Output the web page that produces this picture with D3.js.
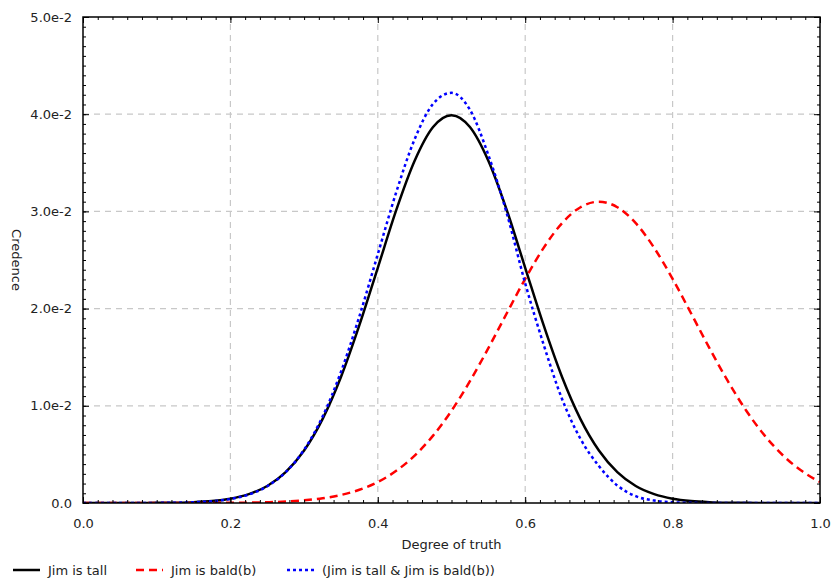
<!DOCTYPE html>
<html>
<head>
  <title>Credence</title>
  <style type="text/css">
    body { margin: 0; background: #fff; }
    svg { display: block; font-family: "DejaVu Sans", sans-serif; }
  </style>
</head>
<body>
<svg id='vis' width='837' height='582'></svg>

<script src="https://cdnjs.cloudflare.com/ajax/libs/d3/7.8.5/d3.min.js"></script>
<script type="text/javascript">

  // degree of truth sample points
  var degrees = [0, 0.025, 0.05, 0.075, 0.1, 0.125, 0.15, 0.175, 0.2, 0.225, 0.25, 0.275, 0.3,
                 0.325, 0.35, 0.375, 0.4, 0.425, 0.45, 0.475, 0.5, 0.525, 0.55, 0.575, 0.6,
                 0.625, 0.65, 0.675, 0.7, 0.725, 0.75, 0.775, 0.8, 0.825, 0.85, 0.875, 0.9,
                 0.925, 0.95, 0.975, 1];

  var tall = [0, 0.0000005, 0.0000016, 0.0000048, 0.0000134, 0.000035, 0.000087, 0.000203, 0.000443,
              0.00091, 0.00175, 0.00318, 0.0054, 0.00863, 0.01296, 0.01829, 0.0242, 0.03013, 0.03521,
              0.03868, 0.0399, 0.03868, 0.03521, 0.03013, 0.0242, 0.01829, 0.01296, 0.00863, 0.0054,
              0.00318, 0.00175, 0.00091, 0.000443, 0.000203, 0.000087, 0.000035, 0.0000134, 0.0000048,
              0.0000016, 0.0000005, 0];

  var bald = [0, 0, 0, 0.000001, 0.000002, 0.000004, 0.000006, 0.00001, 0.000019, 0.000039, 0.000078,
              0.000148, 0.000273, 0.000484, 0.000827, 0.00136, 0.00216, 0.00331, 0.00488, 0.00693,
              0.00949, 0.01253, 0.01593, 0.01952, 0.02306, 0.02625, 0.02879, 0.03043, 0.031, 0.03043,
              0.02879, 0.02625, 0.02306, 0.01952, 0.01593, 0.01253, 0.00949, 0.00693, 0.00488, 0.00331,
              0.00216];

  var both = [0, 0, 0, 0.000003, 0.00001, 0.00003, 0.000077, 0.000185, 0.00041, 0.00087, 0.00172,
              0.00317, 0.00548, 0.00888, 0.01349, 0.0192, 0.0256, 0.03197, 0.03743, 0.04106, 0.0422,
              0.04046, 0.0358, 0.0298, 0.0226, 0.0163, 0.0107, 0.0066, 0.0038, 0.0018, 0.0007, 0.00025,
              0.00008, 0.00002, 0, 0, 0, 0, 0, 0, 0];

  var seriesNames = ['Jim is tall', 'Jim is bald(b)', '(Jim is tall & Jim is bald(b))'];
  var xTicks = [0, 0.2, 0.4, 0.6, 0.8, 1.0];
  var yTicks = [0, 0.01, 0.02, 0.03, 0.04, 0.05];
  var yTickLabels = ['0.0', '1.0e-2', '2.0e-2', '3.0e-2', '4.0e-2', '5.0e-2'];

  var margin = { top: 17, right: 17, bottom: 79, left: 83 },
      width = 837, height = 582,
      fontSize = 13,
      styles = [
        { color: '#000000', dash: null },
        { color: '#ff0000', dash: '8,5' },
        { color: '#0000ff', dash: '3,3' }
      ];

  var svg = d3.select('#vis');

  var xScale = d3.scaleLinear().domain([0, 1]).range([margin.left, width - margin.right]);
  var yScale = d3.scaleLinear().domain([0, 0.05]).range([height - margin.bottom, margin.top]);

  var x0 = xScale.range()[0], x1 = xScale.range()[1],
      y0 = yScale.range()[0], y1 = yScale.range()[1];

  // grid
  var grid = svg.append('g')
    .attr('stroke', '#c8c8c8')
    .attr('stroke-width', 1.2)
    .attr('stroke-dasharray', '6,5');

  grid.selectAll('line.gx')
    .data(xTicks.slice(1, -1))
    .enter().append('line')
    .attr('x1', function(d) { return xScale(d) })
    .attr('x2', function(d) { return xScale(d) })
    .attr('y1', y0).attr('y2', y1);

  grid.selectAll('line.gy')
    .data(yTicks.slice(1, -1))
    .enter().append('line')
    .attr('y1', function(d) { return yScale(d) })
    .attr('y2', function(d) { return yScale(d) })
    .attr('x1', x0).attr('x2', x1);

  // curves
  var line = d3.line()
    .x(function(d) { return xScale(d[0]) })
    .y(function(d) { return yScale(d[1]) })
    .curve(d3.curveMonotoneX);

  svg.append('clipPath').attr('id', 'plot-clip')
    .append('rect')
    .attr('x', x0).attr('y', y1)
    .attr('width', x1 - x0).attr('height', y0 - y1);

  [tall, bald, both].forEach(function(vals, i) {
    svg.append('path')
      .datum(d3.zip(degrees, vals))
      .attr('clip-path', 'url(#plot-clip)')
      .attr('fill', 'none')
      .attr('stroke', styles[i].color)
      .attr('stroke-width', 2.5)
      .attr('stroke-dasharray', styles[i].dash)
      .attr('d', line);
  });

  // axes with inward ticks on all four sides
  var xMinor = d3.range(0, 51).map(function(i) { return i * 0.02 });
  var yMinor = d3.range(0, 51).map(function(i) { return i * 0.001 });

  svg.append('g')
    .attr('transform', 'translate(0,' + y0 + ')')
    .call(d3.axisBottom(xScale).tickValues(xMinor).tickSize(-3).tickFormat(''));
  svg.append('g')
    .attr('transform', 'translate(0,' + y0 + ')')
    .call(d3.axisBottom(xScale).tickValues(xTicks).tickSize(-6).tickPadding(16)
      .tickFormat(d3.format('.1f')));
  svg.append('g')
    .attr('transform', 'translate(0,' + y1 + ')')
    .call(d3.axisTop(xScale).tickValues(xMinor).tickSize(-3).tickFormat(''));
  svg.append('g')
    .attr('transform', 'translate(0,' + y1 + ')')
    .call(d3.axisTop(xScale).tickValues(xTicks).tickSize(-6).tickFormat(''));

  svg.append('g')
    .attr('transform', 'translate(' + x0 + ',0)')
    .call(d3.axisLeft(yScale).tickValues(yMinor).tickSize(-3).tickFormat(''));
  svg.append('g')
    .attr('transform', 'translate(' + x0 + ',0)')
    .call(d3.axisLeft(yScale).tickValues(yTicks).tickSize(-6).tickPadding(11)
      .tickFormat(function(d, i) { return yTickLabels[i] }));
  svg.append('g')
    .attr('transform', 'translate(' + x1 + ',0)')
    .call(d3.axisRight(yScale).tickValues(yMinor).tickSize(-3).tickFormat(''));
  svg.append('g')
    .attr('transform', 'translate(' + x1 + ',0)')
    .call(d3.axisRight(yScale).tickValues(yTicks).tickSize(-6).tickFormat(''));

  svg.selectAll('.domain').remove();
  svg.selectAll('.tick line').attr('stroke', '#000').attr('stroke-width', 1);
  svg.selectAll('.tick text')
    .attr('font-family', '"DejaVu Sans", sans-serif')
    .attr('font-size', fontSize)
    .attr('fill', '#222');

  // frame
  svg.append('rect')
    .attr('x', x0).attr('y', y1)
    .attr('width', x1 - x0).attr('height', y0 - y1)
    .attr('fill', 'none')
    .attr('stroke', '#000')
    .attr('stroke-width', 1.5);

  // axis titles
  svg.append('text')
    .attr('x', (x0 + x1) / 2).attr('y', 549)
    .attr('text-anchor', 'middle')
    .attr('font-size', fontSize).attr('fill', '#222')
    .text('Degree of truth');

  svg.append('text')
    .attr('transform', 'translate(12,' + ((y0 + y1) / 2) + ') rotate(90)')
    .attr('text-anchor', 'middle')
    .attr('font-size', fontSize).attr('fill', '#222')
    .text('Credence');

  // legend
  var legendX = [13, 136, 287];
  var lg = svg.selectAll('g.legend')
    .data(seriesNames)
    .enter().append('g')
    .attr('transform', function(d, i) { return 'translate(' + legendX[i] + ',570)' });

  lg.append('line')
    .attr('x1', 0).attr('x2', 27)
    .attr('stroke', function(d, i) { return styles[i].color })
    .attr('stroke-width', 2.5)
    .attr('stroke-dasharray', function(d, i) { return styles[i].dash });

  lg.append('text')
    .attr('x', 35).attr('dy', '0.35em')
    .attr('font-size', fontSize).attr('fill', '#222')
    .text(function(d) { return d });

</script>
</body>
</html>
